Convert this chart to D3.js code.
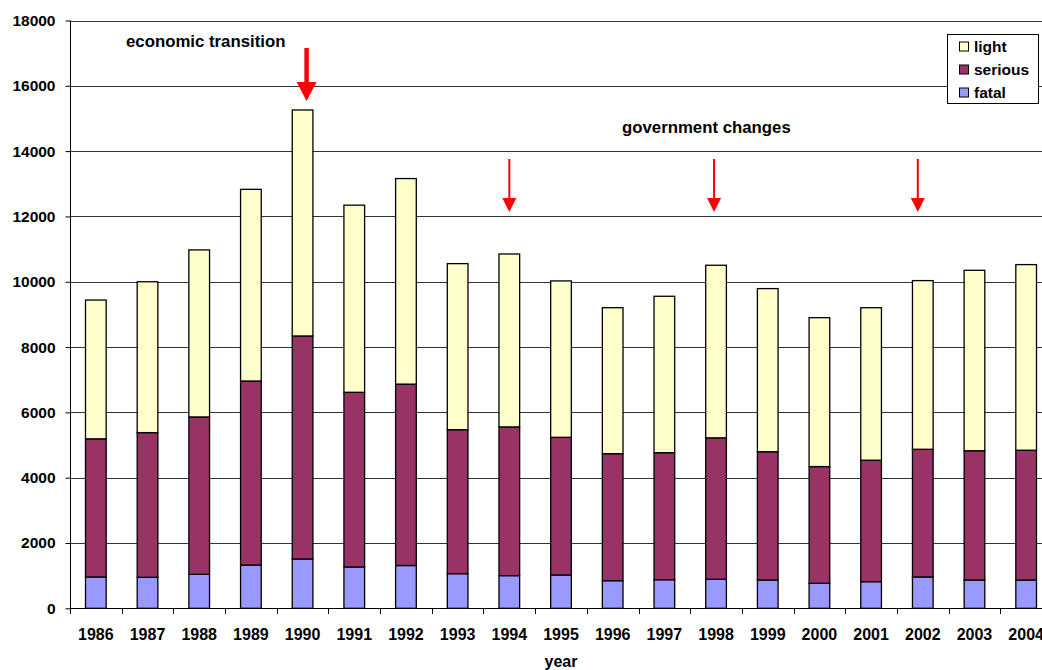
<!DOCTYPE html>
<html>
<head>
<meta charset="utf-8">
<script src="https://cdn.jsdelivr.net/npm/d3@7"></script>
<style>
  html, body { margin: 0; padding: 0; background: #fff; }
  svg { display: block; font-family: "Liberation Sans", Arial, sans-serif; font-weight: bold; }
</style>
</head>
<body>
<svg id="chart" width="1042" height="670"></svg>
<script>
// Road accident casualties by year and severity
const years = ["1986","1987","1988","1989","1990","1991","1992","1993","1994","1995",
               "1996","1997","1998","1999","2000","2001","2002","2003","2004"];
const fatal   = [960, 950, 1040, 1325, 1510, 1265, 1310, 1060, 1000, 1020,
                 845, 875, 890, 865, 765, 815, 960, 865, 865];
const serious = [4230, 4430, 4820, 5635, 6830, 5350, 5555, 4410, 4555, 4215,
                 3890, 3890, 4330, 3930, 3575, 3720, 3910, 3960, 3975];
const light   = [4250, 4620, 5115, 5870, 6920, 5730, 6295, 5085, 5295, 4790,
                 4470, 4790, 5285, 4995, 4560, 4670, 5165, 5525, 5685];
const yTicks = [0, 2000, 4000, 6000, 8000, 10000, 12000, 14000, 16000, 18000];
const seriesKeys = ["fatal", "serious", "light"];
const seriesColors = { light: "#FFFFCC", serious: "#993366", fatal: "#9999FF" };
const legendOrder = ["light", "serious", "fatal"];
const govChangeYears = ["1994", "1998", "2002"];
const transitionYear = "1990";

const rows = years.map((yr, i) => ({ year: yr, fatal: fatal[i], serious: serious[i], light: light[i] }));
const stacked = d3.stack().keys(seriesKeys)(rows);

const svg = d3.select("#chart");
const plotLeft = 70, plotRight = 1052, plotTop = 20.5, plotBottom = 608.3;

const x = d3.scaleBand().domain(years).range([plotLeft, plotRight]).paddingInner(0.6).paddingOuter(0.3);
const y = d3.scaleLinear().domain([0, 18000]).range([plotBottom, plotTop]);
const step = x.step();
const gap = step * 0.6 / 2;

// horizontal gridlines
svg.append("g").selectAll("line").data(yTicks.filter(t => t > 0)).join("line")
  .attr("x1", plotLeft).attr("x2", plotRight)
  .attr("y1", d => Math.round(y(d)) + 0.5).attr("y2", d => Math.round(y(d)) + 0.5)
  .attr("stroke", "#333").attr("stroke-width", 1);

// y axis
const yAxis = svg.append("g").attr("transform", `translate(${plotLeft + 0.5},0)`)
  .call(d3.axisLeft(y).tickValues(yTicks).tickSize(5).tickPadding(10).tickFormat(d3.format("d")));
yAxis.select(".domain").attr("stroke", "#000").attr("d", `M0,${plotTop}V${plotBottom}`);
yAxis.selectAll(".tick line").attr("stroke", "#000");
yAxis.selectAll(".tick text").attr("font-size", 15.5).attr("font-family", "Liberation Sans, Arial, sans-serif")
  .attr("font-weight", "bold").attr("fill", "#000");

// stacked bars
svg.append("g").selectAll("g").data(stacked).join("g")
  .attr("fill", d => seriesColors[d.key])
  .selectAll("rect").data(d => d).join("rect")
  .attr("x", d => x(d.data.year))
  .attr("width", x.bandwidth())
  .attr("y", d => y(d[1]))
  .attr("height", d => y(d[0]) - y(d[1]))
  .attr("stroke", "#000").attr("stroke-width", 1.3);

// x axis line, boundary ticks, labels
svg.append("line").attr("x1", plotLeft).attr("x2", plotRight)
  .attr("y1", 608.5).attr("y2", 608.5).attr("stroke", "#000");
const bounds = years.map(yr => x(yr) - gap);
svg.append("g").selectAll("line").data(bounds).join("line")
  .attr("x1", d => Math.round(d) + 0.5).attr("x2", d => Math.round(d) + 0.5)
  .attr("y1", 608).attr("y2", 614).attr("stroke", "#000");
svg.append("g").selectAll("text").data(years).join("text")
  .attr("x", d => x(d) + x.bandwidth() / 2).attr("y", 639.5)
  .attr("text-anchor", "middle").attr("font-size", 16).text(d => d);

svg.append("text").attr("x", (plotLeft + plotRight) / 2).attr("y", 667)
  .attr("text-anchor", "middle").attr("font-size", 16).text("year");

// annotations
svg.append("text").attr("x", 126).attr("y", 47).attr("font-size", 16.8).text("economic transition");
svg.append("text").attr("x", 622).attr("y", 133).attr("font-size", 16.8).text("government changes");

function arrow(cx, y1, y2, shaft, headW, headH) {
  svg.append("rect").attr("x", cx - shaft / 2).attr("y", y1).attr("width", shaft)
    .attr("height", y2 - headH - y1 + 1).attr("fill", "#FF0000");
  svg.append("path").attr("d",
    `M${cx - headW / 2},${y2 - headH}L${cx + headW / 2},${y2 - headH}L${cx},${y2}Z`)
    .attr("fill", "#FF0000");
}
arrow(x(transitionYear) + x.bandwidth() / 2 + 4, 48, 101, 4.5, 20, 19);
const govOffsets = [0, -2, -5];
govChangeYears.forEach((yr, i) => {
  arrow(x(yr) + x.bandwidth() / 2 + govOffsets[i], 159, 212, 2, 14, 14);
});

// legend
const lg = svg.append("g");
lg.append("rect").attr("x", 947.5).attr("y", 34.5).attr("width", 91).attr("height", 69)
  .attr("fill", "#fff").attr("stroke", "#000").attr("stroke-width", 1);
legendOrder.forEach((k, i) => {
  const cy = 46.5 + i * 23;
  lg.append("rect").attr("x", 959.5).attr("y", cy - 4.5).attr("width", 9).attr("height", 9)
    .attr("fill", seriesColors[k]).attr("stroke", "#000").attr("stroke-width", 1);
  lg.append("text").attr("x", 974).attr("y", cy + 5.5).attr("font-size", 15.5).text(k);
});
</script>
</body>
</html>
